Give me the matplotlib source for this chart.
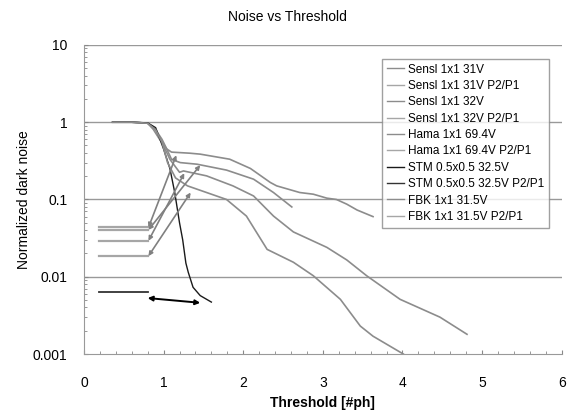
import numpy as np
import matplotlib
matplotlib.use("Agg")
import matplotlib.pyplot as plt
from matplotlib.ticker import FixedLocator, NullFormatter

plt.rcParams['font.family'] = ['Liberation Sans', 'DejaVu Sans']

# noise curves (threshold in #ph, normalized dark noise)
sensl31_x = [0.36, 0.6, 0.8, 0.9, 0.98, 1.04, 1.1, 1.21, 1.42, 1.79, 2.13, 2.38, 2.61]
sensl31_y = [1.0, 1.0, 0.97, 0.8, 0.6, 0.45, 0.33, 0.30, 0.286, 0.24, 0.183, 0.123, 0.08]

sensl32_x = [0.36, 0.6, 0.8, 0.87, 0.95, 1.04, 1.1, 1.33, 1.46, 1.83, 2.09, 2.34, 2.42,
             2.71, 2.88, 3.05, 3.17, 3.30, 3.43, 3.63]
sensl32_y = [1.0, 1.0, 0.97, 0.81, 0.6, 0.45, 0.41, 0.397, 0.386, 0.332, 0.252, 0.166, 0.15,
             0.123, 0.117, 0.104, 0.1, 0.087, 0.073, 0.060]

hama_x = [0.36, 0.6, 0.8, 0.9, 0.98, 1.08, 1.2, 1.25, 1.54, 1.87, 2.13, 2.38, 2.63,
          3.05, 3.30, 3.55, 3.97, 4.47, 4.81]
hama_y = [1.0, 1.0, 0.97, 0.8, 0.55, 0.33, 0.225, 0.234, 0.202, 0.15, 0.111, 0.061, 0.038,
          0.024, 0.0165, 0.0103, 0.0051, 0.0030, 0.0018]

stm_x = [0.36, 0.6, 0.8, 0.9, 1.0, 1.08, 1.14, 1.2, 1.24, 1.28, 1.31, 1.37, 1.46, 1.60]
stm_y = [1.0, 1.0, 0.98, 0.85, 0.45, 0.25, 0.123, 0.05, 0.03, 0.015, 0.0114, 0.0073, 0.0057, 0.0047]

fbk_x = [0.36, 0.6, 0.8, 0.9, 0.98, 1.05, 1.15, 1.3, 1.54, 1.79, 2.04, 2.30, 2.63,
         2.88, 3.22, 3.47, 3.63, 4.01]
fbk_y = [1.0, 1.0, 0.97, 0.8, 0.55, 0.3, 0.19, 0.15, 0.123, 0.1, 0.061, 0.0226, 0.0154,
         0.0103, 0.0051, 0.0023, 0.0017, 0.001]

# P2/P1 ratios: flat levels, with arrows pointing to the matching curve
p2p1_x = [0.19, 0.81]
sensl31_p2p1 = 0.0434
sensl32_p2p1 = 0.0404
hama_p2p1 = 0.0292
stm_p2p1 = 0.0063
fbk_p2p1 = 0.0185

# arrow tips (x, y) on the curves
sensl31_tip = (1.16, 0.374)
sensl32_tip = (1.46, 0.278)
hama_tip = (1.26, 0.219)
fbk_tip = (1.34, 0.123)
stm_arrow = [(0.80, 0.0053), (1.46, 0.0046)]

curve_gray = '#8c8c8c'
ratio_gray = '#a6a6a6'
dark = '#1a1a1a'

fig = plt.figure(figsize=(5.75, 4.16), dpi=100)
ax = fig.add_axes([0.146, 0.149, 0.831, 0.743])

ax.plot(sensl31_x, sensl31_y, color=curve_gray, lw=1.2, label='Sensl 1x1 31V')
ax.plot(p2p1_x, [sensl31_p2p1] * 2, color=ratio_gray, lw=1.6, label='Sensl 1x1 31V P2/P1')
ax.plot(sensl32_x, sensl32_y, color=curve_gray, lw=1.2, label='Sensl 1x1 32V')
ax.plot(p2p1_x, [sensl32_p2p1] * 2, color=ratio_gray, lw=1.6, label='Sensl 1x1 32V P2/P1')
ax.plot(hama_x, hama_y, color=curve_gray, lw=1.2, label='Hama 1x1 69.4V')
ax.plot(p2p1_x, [hama_p2p1] * 2, color=ratio_gray, lw=1.6, label='Hama 1x1 69.4V P2/P1')
ax.plot(stm_x, stm_y, color=dark, lw=1.0, label='STM 0.5x0.5 32.5V')
ax.plot(p2p1_x, [stm_p2p1] * 2, color='#333333', lw=1.3, label='STM 0.5x0.5 32.5V P2/P1')
ax.plot(fbk_x, fbk_y, color=curve_gray, lw=1.2, label='FBK 1x1 31.5V')
ax.plot(p2p1_x, [fbk_p2p1] * 2, color=ratio_gray, lw=1.6, label='FBK 1x1 31.5V P2/P1')

for level, tip in [(sensl31_p2p1, sensl31_tip), (sensl32_p2p1, sensl32_tip),
                   (hama_p2p1, hama_tip), (fbk_p2p1, fbk_tip)]:
    ax.annotate('', xy=tip, xytext=(p2p1_x[1], level),
                arrowprops=dict(arrowstyle='<|-|>', color='#808080', lw=1.2,
                                mutation_scale=6, shrinkA=0, shrinkB=0))
ax.annotate('', xy=stm_arrow[1], xytext=stm_arrow[0],
            arrowprops=dict(arrowstyle='<|-|>', color='black', lw=1.4,
                            mutation_scale=7, shrinkA=0, shrinkB=0))

ax.set_yscale('log')
ax.set_xlim(0, 6)
ax.set_ylim(0.001, 10)
ax.set_yticks([0.001, 0.01, 0.1, 1, 10])
ax.set_yticklabels(['0.001', '0.01', '0.1', '1', '10'])
ax.yaxis.set_minor_locator(FixedLocator(
    [m * 10.0 ** e for e in range(-3, 1) for m in range(2, 10)]))
ax.yaxis.set_minor_formatter(NullFormatter())
ax.set_xticks(range(7))
ax.xaxis.set_minor_locator(FixedLocator(np.arange(0, 6.01, 0.2)))
ax.tick_params(which='both', direction='in', colors='#888888', labelcolor='black',
               labelsize=10)
ax.tick_params(axis='x', which='major', length=3, pad=16)
ax.tick_params(axis='y', which='major', length=3, pad=12)
ax.tick_params(which='minor', length=2)

for v in [0.01, 0.1, 1, 10]:
    ax.axhline(v, color='#999999', lw=1.0, zorder=0)

ax.spines['top'].set_visible(False)
ax.spines['right'].set_visible(False)
ax.spines['left'].set_color('#999999')
ax.spines['bottom'].set_color('#999999')

ax.set_xlabel('Threshold [#ph]', fontsize=10, fontweight='bold', labelpad=4)
ax.set_ylabel('Normalized dark noise', fontsize=10, labelpad=1)
fig.suptitle('Noise vs Threshold', fontsize=10, y=0.975)

leg = ax.legend(loc='upper right', bbox_to_anchor=(0.973, 0.955), borderaxespad=0,
                fontsize=8.5, frameon=True, fancybox=False, handlelength=1.5,
                handletextpad=0.3, labelspacing=0.37, borderpad=0.4)
leg.get_frame().set_edgecolor('#888888')
leg.get_frame().set_linewidth(1.0)
for line in leg.get_lines():
    line.set_linewidth(1.0)

fig.savefig('out.png', dpi=100)
